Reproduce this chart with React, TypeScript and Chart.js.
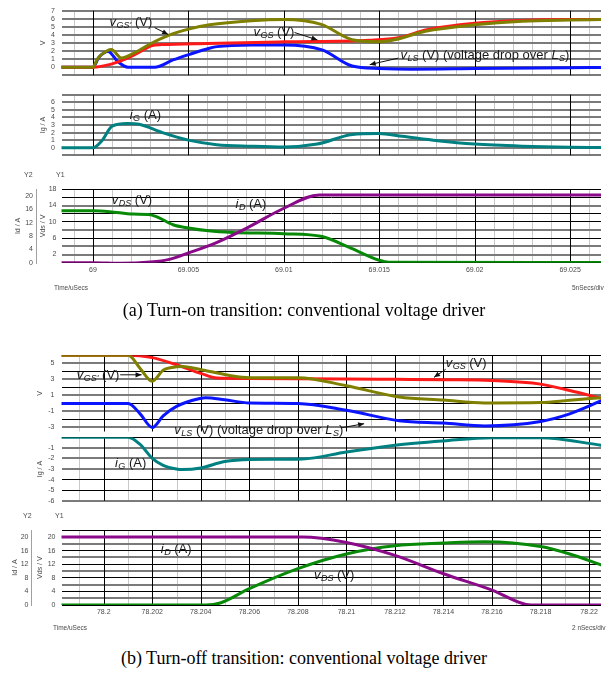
import React, { useEffect, useRef } from 'react';
import { Chart, registerables } from 'chart.js';
Chart.register(...registerables);

const SANS = "'Liberation Sans', Arial, Helvetica, sans-serif";
const SERIF = "'Liberation Serif', 'Times New Roman', serif";

// ---------------- (a) turn-on ----------------
const onXMin = 68.99835;
const onXMax = 69.02662;
const onXTicks = [69, 69.005, 69.01, 69.015, 69.02, 69.025];
const onXTickLabels = ['69', '69.005', '69.01', '69.015', '69.02', '69.025'];

const onVgsPrimeT = [68.99835, 69.0, 69.0002, 69.00044, 69.00096, 69.00149, 69.0021, 69.00297, 69.00402, 69.00506, 69.00611, 69.0083, 69.01, 69.01196, 69.01358, 69.01496, 69.0158, 69.01742, 69.02, 69.0225, 69.025, 69.02662];
const onVgsPrimeV = [0, 0, 0.9, 1.55, 2.2, 1.15, 1.7, 2.85, 4.0, 4.75, 5.25, 5.75, 5.9, 5.3, 3.4, 3.15, 3.4, 4.45, 5.25, 5.7, 5.85, 5.9];
const onVgsT = [68.99835, 69.0, 69.00096, 69.00175, 69.00245, 69.0031, 69.0036, 69.006, 69.01, 69.0145, 69.016, 69.0175, 69.02, 69.0225, 69.025, 69.02662];
const onVgsV = [0, 0, 0.38, 1.05, 1.9, 2.7, 2.8, 2.95, 3.15, 3.35, 3.65, 4.65, 5.45, 5.8, 5.9, 5.9];
const onVlsT = [68.99835, 69.0, 69.0003, 69.00079, 69.0013, 69.00183, 69.00323, 69.00419, 69.00506, 69.0061, 69.0065, 69.0083, 69.01, 69.012, 69.01358, 69.015, 69.0167, 69.02, 69.025, 69.02662];
const onVlsV = [0, 0, 1.2, 1.95, 0.7, 0.0, 0.0, 0.9, 1.6, 2.35, 2.55, 2.75, 2.75, 2.15, 0.15, -0.15, -0.25, -0.17, -0.05, -0.03];
const onIgT = [68.99835, 69.0, 69.00049, 69.001, 69.00181, 69.00242, 69.00364, 69.005, 69.00648, 69.0083, 69.01, 69.01175, 69.01358, 69.01496, 69.01622, 69.01805, 69.02, 69.0225, 69.025, 69.02662];
const onIgV = [0, 0, 1.0, 2.85, 3.2, 3.1, 2.0, 1.0, 0.4, 0.2, 0.1, 0.48, 1.74, 1.88, 1.5, 0.92, 0.48, 0.2, 0.06, 0.03];
const onVdsT = [68.99835, 69.0, 69.00087, 69.0021, 69.0029, 69.00332, 69.00419, 69.005, 69.00606, 69.0073, 69.01, 69.012, 69.0134, 69.015, 69.0155, 69.02662];
const onVdsV = [12.7, 12.7, 12.5, 11.9, 11.8, 11.3, 9.3, 8.5, 7.8, 7.4, 7.1, 6.4, 3.8, 0.6, 0.1, 0.05];
const onIdT = [68.99835, 69.0, 69.0015, 69.003, 69.004, 69.005, 69.0065, 69.0081, 69.01, 69.01186, 69.02662];
const onIdV = [0, 0, -0.2, 0.2, 1.0, 2.9, 6.1, 10.5, 16.3, 20.3, 20.3];

// ---------------- (b) turn-off ----------------
const offXMin = 78.19826;
const offXMax = 78.22049;
const offXTicks = [78.2, 78.202, 78.204, 78.206, 78.208, 78.21, 78.212, 78.214, 78.216, 78.218, 78.22];
const offXTickLabels = ['78.2', '78.202', '78.204', '78.206', '78.208', '78.21', '78.212', '78.214', '78.216', '78.218', '78.22'];

const offVgsPrimeT = [78.19826, 78.20101, 78.2015, 78.202, 78.20245, 78.203, 78.20323, 78.20418, 78.20531, 78.206, 78.208, 78.21, 78.21217, 78.214, 78.21569, 78.218, 78.2192, 78.22049];
const offVgsPrimeV = [6, 6, 4.35, 2.76, 4.13, 4.55, 4.6, 4.1, 3.4, 3.2, 3.2, 2.2, 0.8, 0.41, 0.05, 0.1, 0.4, 0.7];
const offVgsT = [78.19826, 78.20099, 78.202, 78.20291, 78.20403, 78.20466, 78.206, 78.21, 78.212, 78.214, 78.216, 78.218, 78.2192, 78.22049];
const offVgsV = [6, 6, 5.7, 4.9, 3.7, 3.15, 3.1, 3.05, 3.0, 2.95, 2.85, 2.4, 1.6, 0.65];
const offVlsT = [78.19826, 78.20101, 78.2015, 78.202, 78.20245, 78.203, 78.20396, 78.2042, 78.20498, 78.206, 78.208, 78.21, 78.21217, 78.214, 78.2157, 78.218, 78.2192, 78.22049];
const offVlsV = [0, 0, -1.3, -3.0, -1.55, -0.37, 0.6, 0.7, 0.45, 0.05, 0.0, -0.85, -2.15, -2.45, -2.8, -2.25, -1.3, 0.3];
const offIgT = [78.19826, 78.20101, 78.2015, 78.202, 78.20245, 78.203, 78.20323, 78.204, 78.20498, 78.206, 78.20818, 78.21, 78.212, 78.214, 78.216, 78.218, 78.22049];
const offIgV = [0, 0, -0.68, -2.0, -2.65, -3.0, -3.05, -2.9, -2.3, -2.1, -2.05, -1.4, -0.76, -0.35, -0.05, -0.05, -0.75];
const offIdT = [78.19826, 78.20818, 78.21, 78.212, 78.214, 78.216, 78.2176, 78.22049];
const offIdV = [20, 20, 18.4, 14.6, 9.2, 4.4, 0, 0];
const offVdsT = [78.19826, 78.2042, 78.2048, 78.206, 78.208, 78.21, 78.212, 78.214, 78.2157, 78.218, 78.2192, 78.22049];
const offVdsV = [0, 0, 0.6, 4.8, 10.7, 15.0, 17.4, 18.2, 18.6, 17.2, 15.0, 11.8];

// ---------------- styles ----------------
const RED = '#ff1a1a';
const OLIVE = '#808000';
const BLUE = '#0a14ff';
const TEAL = '#008080';
const GREEN = '#088a08';
const PURPLE = '#8a0a8a';

type Seg = { t: string; k: 'n' | 'i' | 's' };
const lab = (sym: string, sub: string, unit: string): Seg[] => [
  { t: sym, k: 'i' },
  { t: sub, k: 's' },
  { t: ' (' + unit + ')', k: 'n' },
];
const vlsLabel: Seg[] = [
  { t: 'v', k: 'i' },
  { t: 'LS', k: 's' },
  { t: ' (V) (voltage drop over ', k: 'n' },
  { t: 'L', k: 'i' },
  { t: 'S', k: 's' },
  { t: ')', k: 'n' },
];

type Ann = { segs: Seg[]; at: [number, number]; axis: string; arrow?: [number, number, number, number] };
type YAxisSpec = {
  id: string; min: number; max: number; grid: number[]; dark: number[]; labels: number[];
  title: string; width: number; labelPad: number; titlePad: number; showGrid: boolean; border?: boolean; weight: number;
};
type Series = { t: number[]; v: number[]; color: string; axis: string };
type PanelSpec = {
  top: number; height: number; padTop: number; padBottom: number;
  xMin: number; xMax: number; xMajor: number[]; xMajorLabels: string[];
  showXLabels: boolean; xHeight: number; xPad: number;
  yAxes: YAxisSpec[]; series: Series[]; anns: Ann[];
};

const range = (a: number, b: number, s: number) => {
  const out: number[] = [];
  for (let v = a; v <= b + 1e-9; v += s) out.push(Math.round(v * 1000) / 1000);
  return out;
};

function drawRich(ctx: CanvasRenderingContext2D, segs: Seg[], x: number, y: number) {
  let cx = x;
  ctx.fillStyle = '#1a1a1a';
  ctx.textBaseline = 'middle';
  ctx.textAlign = 'left';
  for (const s of segs) {
    let dy = 0;
    if (s.k === 'i') ctx.font = `italic 13px ${SANS}`;
    else if (s.k === 's') { ctx.font = `italic 9px ${SANS}`; dy = 3; }
    else ctx.font = `13px ${SANS}`;
    ctx.fillText(s.t, cx, y + dy);
    cx += ctx.measureText(s.t).width + (s.k === 'i' ? 0.5 : 0);
  }
}

// vertical grid: minor lines under the horizontal grid, major lines above it
const vGridPlugin = (xGrid: number[], isMajor: (v: number) => boolean) => {
  const draw = (chart: any, major: boolean) => {
    const ctx: CanvasRenderingContext2D = chart.ctx;
    const xs = chart.scales.x;
    const { top, bottom } = chart.chartArea;
    ctx.save();
    ctx.lineWidth = 1;
    ctx.strokeStyle = major ? '#000000' : '#c8c8c8';
    ctx.beginPath();
    for (const v of xGrid) {
      if (isMajor(v) !== major) continue;
      const px = Math.round(xs.getPixelForValue(v)) + 0.5;
      ctx.moveTo(px, top);
      ctx.lineTo(px, bottom);
    }
    ctx.stroke();
    ctx.restore();
  };
  return {
    id: 'vgrid',
    beforeDraw(chart: any) { draw(chart, false); },
    beforeDatasetsDraw(chart: any) { draw(chart, true); },
  };
};

const annPlugin = (anns: Ann[]) => ({
  id: 'anns',
  afterDatasetsDraw(chart: any) {
    const ctx: CanvasRenderingContext2D = chart.ctx;
    const xs = chart.scales.x;
    ctx.save();
    for (const a of anns) {
      const ys = chart.scales[a.axis];
      drawRich(ctx, a.segs, xs.getPixelForValue(a.at[0]), ys.getPixelForValue(a.at[1]));
      if (a.arrow) {
        const x1 = xs.getPixelForValue(a.arrow[0]);
        const y1 = ys.getPixelForValue(a.arrow[1]);
        const x2 = xs.getPixelForValue(a.arrow[2]);
        const y2 = ys.getPixelForValue(a.arrow[3]);
        ctx.strokeStyle = '#111';
        ctx.fillStyle = '#111';
        ctx.lineWidth = 1;
        ctx.beginPath();
        ctx.moveTo(x1, y1);
        ctx.lineTo(x2, y2);
        ctx.stroke();
        const ang = Math.atan2(y2 - y1, x2 - x1);
        const L = 6, W = 2.6;
        ctx.beginPath();
        ctx.moveTo(x2, y2);
        ctx.lineTo(x2 - L * Math.cos(ang) + W * Math.sin(ang), y2 - L * Math.sin(ang) - W * Math.cos(ang));
        ctx.lineTo(x2 - L * Math.cos(ang) - W * Math.sin(ang), y2 - L * Math.sin(ang) + W * Math.cos(ang));
        ctx.closePath();
        ctx.fill();
      }
    }
    ctx.restore();
  },
});

function buildConfig(p: PanelSpec): any {
  const xGrid: number[] = [];
  for (let k = Math.ceil(p.xMin * 1000); k <= Math.floor(p.xMax * 1000); k++) xGrid.push(k / 1000);
  const majorIdx = (v: number) => p.xMajor.findIndex((m) => Math.abs(m - v) < 1e-7);
  const tickFont = { size: 7, family: SANS };
  const scales: any = {
    x: {
      type: 'linear',
      position: 'bottom',
      min: p.xMin,
      max: p.xMax,
      afterBuildTicks: (s: any) => { s.ticks = xGrid.map((v) => ({ value: v })); },
      afterFit: (s: any) => { s.height = p.xHeight; },
      ticks: {
        display: p.showXLabels,
        autoSkip: false,
        maxRotation: 0,
        minRotation: 0,
        padding: p.xPad,
        font: tickFont,
        color: '#4a4a4a',
        callback: (v: number) => { const i = majorIdx(v); return i >= 0 ? p.xMajorLabels[i] : ''; },
      },
      grid: { display: false, drawTicks: false },
      border: { display: false },
    },
  };
  for (const a of p.yAxes) {
    scales[a.id] = {
      type: 'linear',
      position: 'left',
      min: a.min,
      max: a.max,
      weight: a.weight,
      afterBuildTicks: (s: any) => { s.ticks = a.grid.map((v) => ({ value: v })); },
      afterFit: (s: any) => { s.width = a.width; },
      ticks: {
        autoSkip: false,
        padding: a.labelPad,
        font: tickFont,
        color: '#4a4a4a',
        callback: (v: number) => (a.labels.includes(v) ? String(v) : ''),
      },
      grid: {
        display: a.showGrid,
        drawTicks: false,
        color: (c: any) => (c.tick && a.dark.includes(c.tick.value) ? '#000000' : '#7a7a7a'),
        lineWidth: (c: any) => (c.tick && a.dark.includes(c.tick.value) ? 1 : 2),
      },
      border: { display: !!a.border, color: '#a0a0a0', width: 1 },
      title: {
        display: true,
        text: a.title,
        font: tickFont,
        color: '#4a4a4a',
        padding: { top: a.titlePad, bottom: 0 },
      },
    };
  }
  return {
    type: 'line',
    data: {
      datasets: p.series.map((s) => ({
        data: s.t.map((x, i) => ({ x, y: s.v[i] })),
        borderColor: s.color,
        backgroundColor: s.color,
        borderWidth: 3,
        pointRadius: 0,
        cubicInterpolationMode: 'monotone',
        borderJoinStyle: 'round',
        borderCapStyle: 'round',
        fill: false,
        yAxisID: s.axis,
      })),
    },
    options: {
      responsive: false,
      animation: false,
      devicePixelRatio: 1,
      events: [],
      layout: { padding: { left: 0, right: 7, top: p.padTop, bottom: p.padBottom } },
      plugins: { legend: { display: false }, tooltip: { enabled: false } },
      scales,
    },
    plugins: [vGridPlugin(xGrid, (v) => majorIdx(v) >= 0), annPlugin(p.anns)],
  };
}

// ---------------- panel specs ----------------
const panels: PanelSpec[] = [
  {
    top: 0, height: 86, padTop: 5.5, padBottom: 2.1,
    xMin: onXMin, xMax: onXMax, xMajor: onXTicks, xMajorLabels: onXTickLabels, showXLabels: false, xHeight: 0, xPad: 0,
    yAxes: [{ id: 'y', min: -1, max: 7, grid: range(-1, 7, 1), dark: [], labels: range(0, 7, 1), title: 'V', width: 61.5, labelPad: 6.5, titlePad: 39, showGrid: true, weight: 0 }],
    series: [
      { t: onVgsPrimeT, v: onVgsPrimeV, color: OLIVE, axis: 'y' },
      { t: onVgsT, v: onVgsV, color: RED, axis: 'y' },
      { t: onVlsT, v: onVlsV, color: BLUE, axis: 'y' },
    ],
    anns: [
      { segs: lab('v', "GS'", 'V'), at: [69.00087, 5.5], axis: 'y', arrow: [69.00323, 4.9, 69.00394, 4.06] },
      { segs: lab('v', 'GS', 'V'), at: [69.00841, 4.33], axis: 'y', arrow: [69.01056, 4.3, 69.01176, 3.38] },
      { segs: vlsLabel, at: [69.01611, 1.44], axis: 'y', arrow: [69.016, 1.13, 69.0145, 0.32] },
    ],
  },
  {
    top: 84, height: 82, padTop: 2.3, padBottom: 1.5,
    xMin: onXMin, xMax: onXMax, xMajor: onXTicks, xMajorLabels: onXTickLabels, showXLabels: false, xHeight: 0, xPad: 0,
    yAxes: [{ id: 'y', min: -1, max: 7, grid: range(-1, 7, 1), dark: [], labels: range(0, 6, 1), title: 'Ig / A', width: 61.5, labelPad: 6.5, titlePad: 39, showGrid: true, weight: 0 }],
    series: [{ t: onIgT, v: onIgV, color: TEAL, axis: 'y' }],
    anns: [{ segs: lab('i', 'G', 'A'), at: [69.00192, 4.23], axis: 'y' }],
  },
  {
    top: 180, height: 100, padTop: 7, padBottom: 5.3,
    xMin: onXMin, xMax: onXMax, xMajor: onXTicks, xMajorLabels: onXTickLabels, showXLabels: true, xHeight: 12, xPad: 3,
    yAxes: [
      { id: 'y', min: 0, max: 18, grid: range(0, 18, 2), dark: [0, 6, 10, 12, 16, 18], labels: [2, 6, 10, 14, 18], title: 'Vds / V', width: 25.5, labelPad: 5, titlePad: 2.5, showGrid: true, weight: 0 },
      { id: 'y2', min: 0, max: 22, grid: range(0, 20, 4), dark: [], labels: range(0, 20, 4), title: 'Id / A', width: 36, labelPad: 3, titlePad: 14.3, showGrid: false, border: true, weight: 1 },
    ],
    series: [
      { t: onIdT, v: onIdV, color: PURPLE, axis: 'y2' },
      { t: onVdsT, v: onVdsV, color: GREEN, axis: 'y' },
    ],
    anns: [
      { segs: lab('v', 'DS', 'V'), at: [69.00098, 15.2], axis: 'y' },
      { segs: lab('i', 'D', 'A'), at: [69.00747, 14.2], axis: 'y' },
    ],
  },
  {
    top: 344, height: 100, padTop: 6.8, padBottom: 12.5,
    xMin: offXMin, xMax: offXMax, xMajor: offXTicks, xMajorLabels: offXTickLabels, showXLabels: false, xHeight: 0, xPad: 0,
    yAxes: [{ id: 'y', min: -3.5, max: 6, grid: range(-3, 6, 1), dark: [6, 4, 2, 0, -2], labels: [5, 3, 1, -1, -3], title: 'V', width: 61.5, labelPad: 7, titlePad: 35.8, showGrid: true, weight: 0 }],
    series: [
      { t: offVgsPrimeT, v: offVgsPrimeV, color: OLIVE, axis: 'y' },
      { t: offVgsT, v: offVgsV, color: RED, axis: 'y' },
      { t: offVlsT, v: offVlsV, color: BLUE, axis: 'y' },
    ],
    anns: [
      { segs: lab('v', "GS'", 'V'), at: [78.19889, 3.45], axis: 'y', arrow: [78.20068, 3.56, 78.20156, 3.56] },
      { segs: lab('v', 'GS', 'V'), at: [78.21409, 4.92], axis: 'y', arrow: [78.21409, 4.25, 78.21361, 3.24] },
      { segs: vlsLabel, at: [78.20291, -3.32], axis: 'y', arrow: [78.20977, -3.05, 78.21073, -2.53] },
    ],
  },
  {
    top: 426, height: 86, padTop: 5.5, padBottom: 4.3,
    xMin: offXMin, xMax: offXMax, xMajor: offXTicks, xMajorLabels: offXTickLabels, showXLabels: false, xHeight: 0, xPad: 0,
    yAxes: [{ id: 'y', min: -6, max: 0, grid: range(-6, 0, 1), dark: [-4, -5, 0], labels: [-1, -2, -3, -4, -5, -6], title: 'Ig / A', width: 61.5, labelPad: 7, titlePad: 35.8, showGrid: true, weight: 0 }],
    series: [{ t: offIgT, v: offIgV, color: TEAL, axis: 'y' }],
    anns: [{ segs: lab('i', 'G', 'A'), at: [78.20046, -2.49], axis: 'y' }],
  },
  {
    top: 520, height: 105, padTop: 9.3, padBottom: 8,
    xMin: offXMin, xMax: offXMax, xMajor: offXTicks, xMajorLabels: offXTickLabels, showXLabels: true, xHeight: 12, xPad: 2.5,
    yAxes: [
      { id: 'y', min: 0, max: 22, grid: range(0, 22, 2), dark: [0, 4, 8, 12, 16, 20, 22], labels: range(0, 20, 4), title: 'Vds / V', width: 30.5, labelPad: 6, titlePad: 4.8, showGrid: true, weight: 0 },
      { id: 'y2', min: 0, max: 22, grid: range(0, 20, 4), dark: [], labels: range(0, 20, 4), title: 'Id / A', width: 31, labelPad: 2.5, titlePad: 10.8, showGrid: false, border: true, weight: 1 },
    ],
    series: [
      { t: offIdT, v: offIdV, color: PURPLE, axis: 'y2' },
      { t: offVdsT, v: offVdsV, color: GREEN, axis: 'y' },
    ],
    anns: [
      { segs: lab('i', 'D', 'A'), at: [78.20235, 16.3], axis: 'y' },
      { segs: lab('v', 'DS', 'V'), at: [78.20866, 8.7], axis: 'y' },
    ],
  },
];

function Panel({ spec }: { spec: PanelSpec }) {
  const ref = useRef<HTMLCanvasElement>(null);
  useEffect(() => {
    const chart = new Chart(ref.current as HTMLCanvasElement, buildConfig(spec));
    return () => chart.destroy();
  }, [spec]);
  return (
    <canvas
      ref={ref}
      width={608}
      height={spec.height}
      style={{ position: 'absolute', left: 0, top: spec.top, width: 608, height: spec.height }}
    />
  );
}

const small: React.CSSProperties = { position: 'absolute', fontFamily: SANS, fontSize: 7, color: '#4a4a4a', lineHeight: '8px', whiteSpace: 'nowrap' };
const caption: React.CSSProperties = { position: 'absolute', left: 0, width: 608, textAlign: 'center', fontFamily: SERIF, fontSize: 18, lineHeight: '20px', color: '#000', whiteSpace: 'nowrap' };

export default function App() {
  return (
    <div style={{ position: 'absolute', left: 0, top: 0, width: 608, height: 675, background: '#fff', overflow: 'hidden' }}>
      {panels.map((p, i) => <Panel key={i} spec={p} />)}
      <div style={{ ...small, left: 24, top: 171 }}>Y2</div>
      <div style={{ ...small, left: 56, top: 171 }}>Y1</div>
      <div style={{ ...small, left: 54, top: 284, fontSize: 6.5 }}>Time/uSecs</div>
      <div style={{ ...small, left: 572, top: 284, fontSize: 6.5 }}>5nSecs/div</div>
      <div style={{ ...caption, top: 300 }}>(a) Turn-on transition: conventional voltage driver</div>
      <div style={{ ...small, left: 23, top: 512 }}>Y2</div>
      <div style={{ ...small, left: 55, top: 512 }}>Y1</div>
      <div style={{ ...small, left: 53, top: 624, fontSize: 6.5 }}>Time/uSecs</div>
      <div style={{ ...small, left: 572, top: 624, fontSize: 6.5 }}>2 nSecs/div</div>
      <div style={{ ...caption, top: 648 }}>(b) Turn-off transition: conventional voltage driver</div>
    </div>
  );
}
